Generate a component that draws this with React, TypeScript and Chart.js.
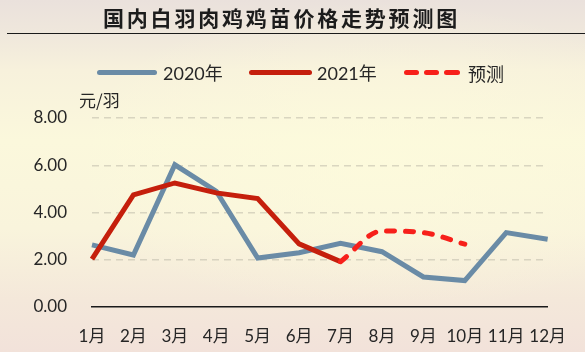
import React, { useEffect, useRef } from "react";
import { Chart, registerables } from "chart.js";

Chart.register(...registerables);

const months = ["1月", "2月", "3月", "4月", "5月", "6月", "7月", "8月", "9月", "10月", "11月", "12月"];
const values2020 = [2.63, 2.2, 6.02, 4.9, 2.07, 2.3, 2.7, 2.34, 1.27, 1.12, 3.15, 2.87];
const values2021 = [2.03, 4.75, 5.25, 4.83, 4.59, 2.67, 1.92, null, null, null, null, null];
const forecast = [null, null, null, null, null, null, 1.92, 3.22, 3.15, 2.66, null, null];
const titleText = "国内白羽肉鸡鸡苗价格走势预测图";
const unitText = "元/羽";

const BLUE = "#6a8ba6";
const RED = "#c51f0c";
const FRED = "#f7201a";

export default function App() {
  const ref = useRef<HTMLCanvasElement | null>(null);
  useEffect(() => {
    if (!ref.current) return;
    const chart = new Chart(ref.current, {
      type: "line",
      data: {
        labels: months,
        datasets: [
          { label: "2020年", data: values2020, borderColor: BLUE, borderWidth: 5, pointRadius: 0, tension: 0, order: 3 },
          { label: "2021年", data: values2021, borderColor: RED, borderWidth: 5, pointRadius: 0, tension: 0, order: 2 },
          {
            label: "预测", data: forecast, borderColor: FRED, borderWidth: 5, pointRadius: 0,
            cubicInterpolationMode: "monotone", tension: 0.4,
            borderDash: [8, 11], borderCapStyle: "round", order: 1,
          },
        ],
      },
      options: {
        animation: false,
        responsive: false,
        maintainAspectRatio: false,
        layout: { padding: { top: 118, right: 32, bottom: 0, left: 0 } },
        plugins: { legend: { display: false }, tooltip: { enabled: false }, title: { display: false } },
        scales: {
          x: {
            grid: { display: false, drawTicks: false },
            border: { display: true, color: "#1a1a1a", width: 1.5 },
            ticks: { color: "#262626", font: { family: "Lato, 'Noto Sans CJK SC'", size: 17 }, padding: 19, maxRotation: 0, autoSkip: false },
            afterFit: (s: any) => { s.height = 45; },
          },
          y: {
            min: 0, max: 8,
            grid: {
              drawTicks: false,
              color: (c: any) => (c.tick && c.tick.value === 0 ? "rgba(0,0,0,0)" : "rgba(190,185,170,0.55)"),
              lineWidth: 1.5,
            },
            border: { display: false, dash: [7, 5] },
            ticks: {
              stepSize: 2, padding: 25, color: "#262626",
              font: { family: "Lato, 'Noto Sans CJK SC'", size: 17 },
              callback: (v: any) => Number(v).toFixed(2),
            },
            afterFit: (s: any) => { s.width = 92; },
          },
        },
      },
    });
    return () => chart.destroy();
  }, []);

  const legendText: React.CSSProperties = {
    position: "absolute", top: 61, fontFamily: "Lato, 'Noto Sans CJK SC'", fontSize: 18, color: "#262626", lineHeight: "24px",
  };
  const bar = (left: number, width: number, color: string): React.CSSProperties => ({
    position: "absolute", left, top: 70, width, height: 5, borderRadius: 3, background: color,
  });

  return (
    <div style={{
      position: "absolute", left: 0, top: 0, width: 585, height: 352, overflow: "hidden",
      background: "linear-gradient(180deg, #eae1dc 0%, #efe7dc 9%, #f7f1dc 20%, #fbf8dc 40%, #f9f4dc 65%, #f4e8da 85%, #f2e2da 100%)",
    }}>
      <div style={{
        position: "absolute", left: 0, top: 0, width: 585, height: 352,
        background: "radial-gradient(ellipse 55% 45% at 65% 45%, rgba(253,251,220,0.7) 0%, rgba(253,251,220,0) 100%)",
      }} />
      <canvas ref={ref} width={585} height={352} style={{ position: "absolute", left: 0, top: 0, width: 585, height: 352 }} />
      <div style={{
        position: "absolute", left: 103, top: 3, width: 380, fontFamily: "'Noto Sans CJK SC'", fontWeight: 700,
        fontSize: 21, letterSpacing: 2.8, color: "#1c1c1c", lineHeight: "28px", whiteSpace: "nowrap",
      }}>{titleText}</div>
      <div style={{ position: "absolute", left: 7, top: 33, width: 578, height: 1, background: "#1a1a1a" }} />
      <div style={bar(97, 60, BLUE)} />
      <div style={{ ...legendText, left: 163 }}>2020年</div>
      <div style={bar(249, 63, RED)} />
      <div style={{ ...legendText, left: 317 }}>2021年</div>
      <div style={bar(404, 15, FRED)} />
      <div style={bar(424, 15, FRED)} />
      <div style={bar(444, 16, FRED)} />
      <div style={{ ...legendText, left: 468, fontFamily: "'Noto Sans CJK SC'" }}>预测</div>
      <div style={{
        position: "absolute", left: 79, top: 88, fontFamily: "'Noto Sans CJK SC'", fontSize: 17, color: "#262626", lineHeight: "24px",
      }}>{unitText}</div>
    </div>
  );
}
